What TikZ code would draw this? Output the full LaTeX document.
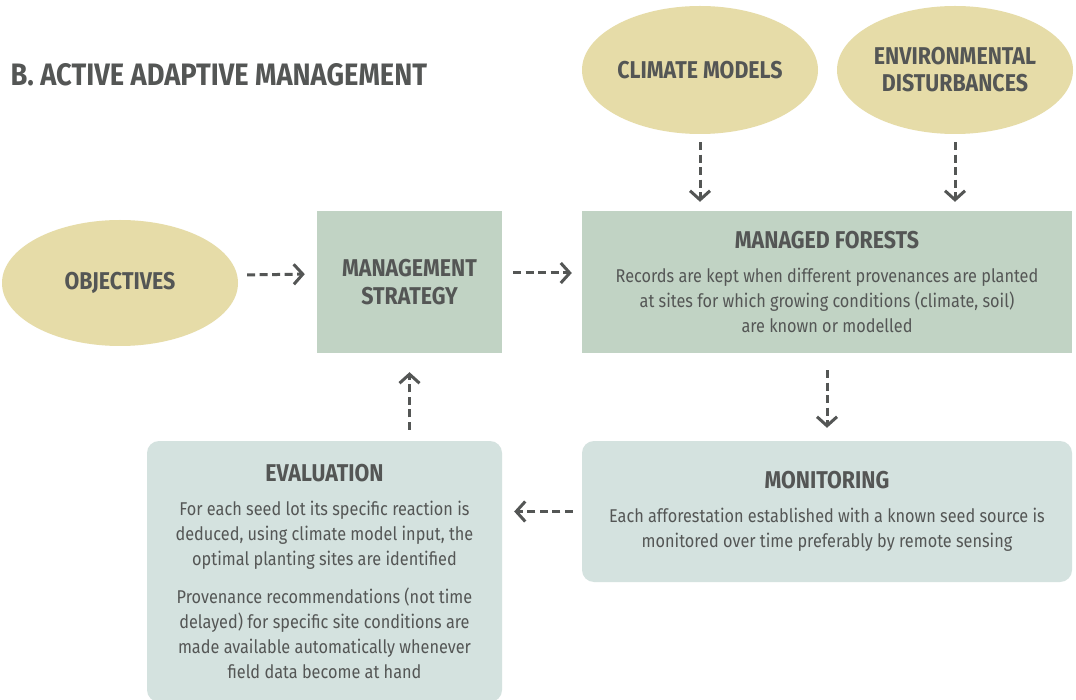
\documentclass[tikz,border=0pt]{standalone}
\usepackage{fontspec}
\setmainfont{Fira Sans}[FakeStretch=0.88]
\usetikzlibrary{shapes.geometric,arrows.meta}
\definecolor{khaki}{HTML}{E6DCA8}
\definecolor{sage}{HTML}{C1D3C4}
\definecolor{mist}{HTML}{D4E2DF}
\definecolor{ink}{HTML}{545655}
\newcommand{\hdfont}{\fontsize{24.3}{28}\bfseries\selectfont}
\newcommand{\bdfont}{\fontsize{18.5}{25}\selectfont}
\begin{document}
\begin{tikzpicture}[x=1pt,y=-1pt,
  every node/.style={text=ink},
  oval/.style={ellipse, fill=khaki, inner sep=0pt, align=center, font=\hdfont},
  sqbox/.style={rectangle, fill=sage, inner sep=0pt, align=center, font=\bdfont},
  rbox/.style={rectangle, rounded corners=12pt, fill=mist, inner sep=0pt, align=center, font=\bdfont},
  flow/.style={draw=ink, line width=3pt, dash pattern=on 8pt off 4.5pt,
    -{Straight Barb[length=9pt,width=20pt,line width=3pt]}}]
\useasboundingbox (0,0) rectangle (1076,700);
\clip (0,0) rectangle (1076,700);
\fill[white] (0,0) rectangle (1076,700);

\node[anchor=base west, font=\fontsize{31}{34}\bfseries\selectfont] (title) at (7,86) {B. ACTIVE ADAPTIVE MANAGEMENT};

\node[oval, minimum width=236pt, minimum height=126pt] (obj) at (120,283) {OBJECTIVES};
\node[oval, minimum width=236pt, minimum height=128pt] (clim) at (700,70) {CLIMATE MODELS};
\node[oval, minimum width=236pt, minimum height=128pt] (env) at (955,70) {ENVIRONMENTAL\\[-1pt]DISTURBANCES};

\node[sqbox, minimum width=185pt, minimum height=142pt, font=\hdfont] (strat) at (409.5,282) {MANAGEMENT\\STRATEGY};
\node[sqbox, minimum width=490pt, minimum height=142pt] (forest) at (827,282)
  {{\hdfont MANAGED FORESTS}\\[9pt]Records are kept when different provenances are planted\\at sites for which growing conditions (climate, soil)\\are known or modelled};
\node[rbox, minimum width=490pt, minimum height=141pt] (mon) at (827,511.5)
  {{\hdfont MONITORING}\\[9pt]Each afforestation established with a known seed source is\\monitored over time preferably by remote sensing};
\node[rbox, minimum width=355pt, minimum height=261pt] (eval) at (324.5,571.5)
  {{\hdfont EVALUATION}\\[9pt]For each seed lot its specific reaction is\\deduced, using climate model input, the\\optimal planting sites are identified\\[13pt]Provenance recommendations (not time\\delayed) for specific site conditions are\\made available automatically whenever\\field data become at hand};

\draw[flow, shorten <=9pt, shorten >=12pt] ([yshift=8pt]obj.east) -- ([yshift=8pt]strat.west);
\draw[flow, shorten <=11pt, shorten >=10pt] ([yshift=9pt]strat.east) -- ([yshift=9pt]forest.west);
\draw[flow, shorten <=8pt, shorten >=9pt] (clim.south) -- (clim.south |- forest.north);
\draw[flow, shorten <=8pt, shorten >=9pt] (env.south) -- (env.south |- forest.north);
\draw[flow, shorten <=17pt, shorten >=13pt] (forest.south) -- (mon.north);
\draw[flow, shorten <=9pt, shorten >=12pt] (mon.west) -- (eval.east |- mon.west);
\draw[flow, shorten <=11pt, shorten >=19pt] (strat.south |- eval.north) -- (strat.south);
\end{tikzpicture}
\end{document}
